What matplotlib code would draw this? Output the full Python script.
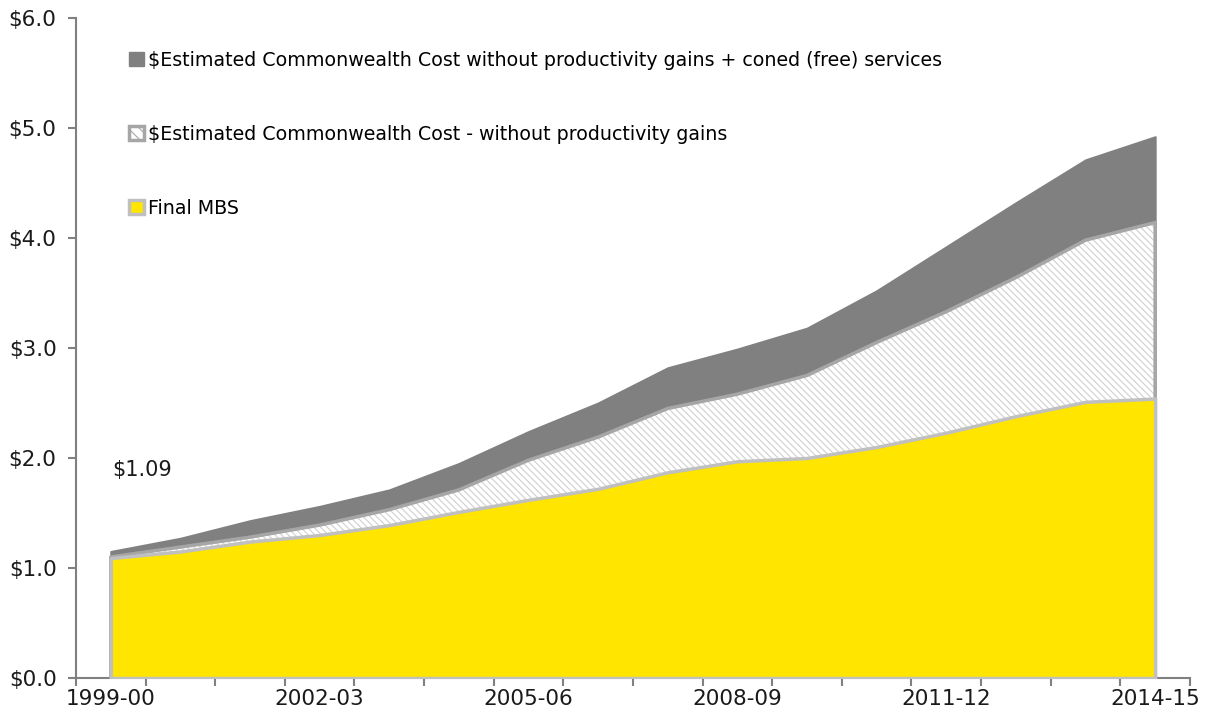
import numpy as np
import matplotlib
matplotlib.use('Agg')
import matplotlib.pyplot as plt
from matplotlib.patches import Patch

years = ['1999-00', '2000-01', '2001-02', '2002-03', '2003-04', '2004-05',
         '2005-06', '2006-07', '2007-08', '2008-09', '2009-10', '2010-11',
         '2011-12', '2012-13', '2013-14', '2014-15']

# $bn
final_mbs = [1.09, 1.15, 1.24, 1.30, 1.39, 1.51, 1.62, 1.72, 1.87, 1.97,
             2.00, 2.10, 2.23, 2.38, 2.51, 2.54]
no_productivity = [1.10, 1.19, 1.28, 1.39, 1.53, 1.71, 1.98, 2.19, 2.45, 2.58,
                   2.75, 3.05, 3.33, 3.64, 3.98, 4.14]
no_prod_coned = [1.15, 1.27, 1.43, 1.56, 1.71, 1.95, 2.24, 2.50, 2.82, 2.99,
                 3.18, 3.52, 3.92, 4.32, 4.71, 4.92]

label_dark = '$Estimated Commonwealth Cost without productivity gains + coned (free) services'
label_hatch = '$Estimated Commonwealth Cost - without productivity gains'
label_yellow = 'Final MBS'

plt.rcParams['font.family'] = 'DejaVu Sans'
plt.rcParams['hatch.linewidth'] = 0.8

x = np.arange(len(years))

fig = plt.figure(figsize=(12.06, 7.17), dpi=100)
ax = fig.add_axes([0.063, 0.0544, 0.9237, 0.9206])

ax.fill_between(x, 0, no_prod_coned, facecolor='#808080', edgecolor='#808080', lw=1.5, zorder=1)
ax.fill_between(x, 0, no_productivity, facecolor='white', edgecolor='#d0d0d0',
                hatch='\\\\\\\\\\', lw=0, zorder=2)
ax.fill_between(x, 0, no_productivity, facecolor='none', edgecolor='#a6a6a6', lw=2.5, zorder=3)
ax.fill_between(x, 0, final_mbs, facecolor='#ffe500', edgecolor='#c0c0c0', lw=2.5, zorder=4)

ax.annotate('${:.2f}'.format(final_mbs[0]), (x[0], final_mbs[0]),
            xytext=(31, 88), textcoords='offset pixels', ha='center', va='center',
            fontsize=15, color='#1a1a1a')

ax.set_xlim(-0.5, len(years) - 0.5)
ax.set_ylim(0, 6)

ax.set_yticks(np.arange(0, 6.01, 1))
ax.set_yticklabels(['${:.1f}'.format(v) for v in np.arange(0, 6.01, 1)])

# tick marks sit between categories, labels every third year
ax.set_xticks(np.arange(-0.5, len(years), 1))
ax.set_xticklabels([])
ax.set_xticks(x[::3], minor=True)
ax.set_xticklabels([years[i] for i in x[::3]], minor=True)
ax.tick_params(axis='x', which='minor', length=0, pad=8)
ax.tick_params(axis='y', which='major', pad=8)
ax.tick_params(axis='both', which='major', length=6, width=1.5, color='#808080', direction='out')
ax.tick_params(axis='both', which='both', labelsize=15.5, labelcolor='#1a1a1a')

for side in ['top', 'right']:
    ax.spines[side].set_visible(False)
for side in ['left', 'bottom']:
    ax.spines[side].set_color('#808080')
    ax.spines[side].set_linewidth(1.5)

handles = [
    Patch(facecolor='#808080', edgecolor='#808080', lw=1),
    Patch(facecolor='white', edgecolor='#a6a6a6', hatch='\\\\\\', lw=2.5),
    Patch(facecolor='#ffe500', edgecolor='#c0c0c0', lw=2.5),
]
ax.legend(handles, [label_dark, label_hatch, label_yellow], loc='upper left',
          bbox_to_anchor=(0.041, 0.962), frameon=False, fontsize=13.7,
          handlelength=0.75, handleheight=0.75, handletextpad=0.25,
          labelspacing=2.9, borderaxespad=0)

plt.savefig('out.png', dpi=100)
